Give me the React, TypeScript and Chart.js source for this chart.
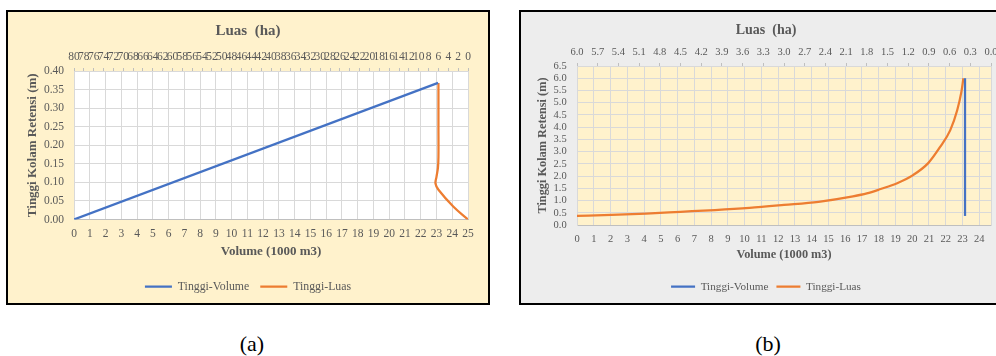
import React, { useEffect, useRef } from 'react';
import { Chart, registerables } from 'chart.js';

Chart.register(...registerables);

const SERIF = "'Liberation Serif', 'Times New Roman', serif";
const TEXT = '#595959';
const BLUE = '#4472C4';
const ORANGE = '#ED7D31';
const GRID = '#D9D9D9';
const TICKMARK = '#BFBFBF';

Chart.defaults.font.family = SERIF;
Chart.defaults.color = TEXT;

// ---------- shared text ----------
const seriesNames = ['Tinggi-Volume', 'Tinggi-Luas'];
const topTitle = 'Luas  (ha)';
const xTitle = 'Volume (1000 m3)';
const yTitle = 'Tinggi Kolam Retensi (m)';
const captions = ['(a)', '(b)'];

// ---------- chart (a) ----------
const volumeA = [0, 23.1];
const heightVolumeA = [0, 0.368];
const luasA = [0, 3.0, 6.0, 6.6, 6.4, 6.1, 6.0, 6.0, 6.0];
const heightLuasA = [0, 0.035, 0.08, 0.097, 0.115, 0.14, 0.17, 0.25, 0.368];

// ---------- chart (b) ----------
const volumeB = [23.15, 23.15];
const heightVolumeB = [0.37, 6.0];
const luasB = [6.0, 5.5, 5.0, 4.5, 4.0, 3.5, 3.0, 2.5, 2.0, 1.8, 1.6, 1.36, 1.13, 0.91, 0.74, 0.59, 0.49, 0.43, 0.4];
const heightLuasB = [0.37, 0.41, 0.47, 0.54, 0.61, 0.7, 0.82, 0.95, 1.17, 1.29, 1.47, 1.71, 2.04, 2.53, 3.18, 3.88, 4.69, 5.43, 6.0];

const pts = (xs: number[], ys: number[]) => xs.map((x, i) => ({ x, y: ys[i] }));

const plotBg = {
  id: 'plotBg',
  beforeDraw(chart: any, _args: any, opts: any) {
    const { ctx, chartArea } = chart;
    ctx.save();
    ctx.fillStyle = opts.color;
    ctx.fillRect(chartArea.left, chartArea.top, chartArea.right - chartArea.left, chartArea.bottom - chartArea.top);
    ctx.restore();
  },
};

type Spec = {
  volume: number[];
  heightVolume: number[];
  luas: number[];
  heightLuas: number[];
  luasCurve: 'default' | 'monotone';
  plotColor: string;
  xMax: number;
  luasMax: number;
  luasStep: number;
  luasDecimals: number;
  yMax: number;
  yStep: number;
  yDecimals: number;
  titleSize: number;
  titlePadTop: number;
  axisTitleSize: number;
  tickSize: number;
  legendSize: number;
  legendPad: number;
  legendLine: number;
  layoutBottom: number;
  topAxisH: number;
  topTickPad: number;
  bottomAxisH: number;
  bottomTickPad: number;
  bottomTitlePad: number;
  yAxisW: number;
  yTickPad: number;
  yTitlePad: number;
  rightW: number;
  rightBorder: boolean;
};

function buildConfig(s: Spec): any {
  return {
    type: 'line',
    data: {
      datasets: [
        {
          label: seriesNames[0],
          data: pts(s.volume, s.heightVolume),
          xAxisID: 'x',
          yAxisID: 'y',
          borderColor: BLUE,
          backgroundColor: BLUE,
          borderWidth: 2.25,
          pointRadius: 0,
          tension: 0,
        },
        {
          label: seriesNames[1],
          data: pts(s.luas, s.heightLuas),
          xAxisID: 'x2',
          yAxisID: 'y',
          borderColor: ORANGE,
          backgroundColor: ORANGE,
          borderWidth: 2.25,
          pointRadius: 0,
          tension: 0.4,
          cubicInterpolationMode: s.luasCurve,
        },
      ],
    },
    options: {
      responsive: false,
      animation: false,
      devicePixelRatio: 1,
      layout: { padding: { left: 0, right: 0, top: 0, bottom: s.layoutBottom } },
      plugins: {
        title: {
          display: true,
          text: topTitle,
          color: TEXT,
          font: { family: SERIF, size: s.titleSize, weight: 'bold' },
          padding: { top: s.titlePadTop, bottom: 0 },
        },
        legend: {
          position: 'bottom',
          labels: {
            color: TEXT,
            font: { family: SERIF, size: s.legendSize },
            usePointStyle: true,
            pointStyle: 'line',
            pointStyleWidth: s.legendLine,
            padding: s.legendPad,
          },
        },
        tooltip: { enabled: false },
        plotBg: { color: s.plotColor },
      },
      scales: {
        x: {
          type: 'linear',
          position: 'bottom',
          min: 0,
          max: s.xMax,
          ticks: {
            stepSize: 1,
            includeBounds: false,
            color: TEXT,
            font: { size: s.tickSize },
            padding: s.bottomTickPad,
            autoSkip: false,
            maxRotation: 0,
            minRotation: 0,
            callback: (v: number) => (Number.isInteger(v) ? String(v) : ''),
          },
          grid: { color: GRID, drawTicks: false },
          border: { color: TICKMARK },
          title: {
            display: true,
            text: xTitle,
            color: TEXT,
            font: { size: s.axisTitleSize, weight: 'bold' },
            padding: { top: 0, bottom: s.bottomTitlePad },
          },
          afterFit: (sc: any) => {
            sc.height = s.bottomAxisH;
          },
        },
        x2: {
          type: 'linear',
          axis: 'x',
          position: 'top',
          min: 0,
          max: s.luasMax,
          reverse: true,
          ticks: {
            stepSize: s.luasStep,
            color: TEXT,
            font: { size: s.tickSize },
            padding: s.topTickPad,
            autoSkip: false,
            maxRotation: 0,
            minRotation: 0,
            callback: (v: number) => Number(v).toFixed(s.luasDecimals),
          },
          grid: { drawOnChartArea: false, drawTicks: true, tickLength: 3, color: TICKMARK },
          border: { display: false },
          afterFit: (sc: any) => {
            sc.height = s.topAxisH;
          },
        },
        y: {
          type: 'linear',
          position: 'left',
          min: 0,
          max: s.yMax,
          ticks: {
            stepSize: s.yStep,
            color: TEXT,
            font: { size: s.tickSize },
            padding: s.yTickPad,
            autoSkip: false,
            callback: (v: number) => Number(v).toFixed(s.yDecimals),
          },
          grid: { color: GRID, drawTicks: false },
          border: { color: GRID },
          title: {
            display: true,
            text: yTitle,
            color: TEXT,
            font: { size: s.axisTitleSize, weight: 'bold' },
            padding: { top: s.yTitlePad, bottom: 0 },
          },
          afterFit: (sc: any) => {
            sc.width = s.yAxisW;
          },
        },
        y2: {
          type: 'linear',
          axis: 'y',
          position: 'right',
          min: 0,
          max: 1,
          ticks: { display: false },
          grid: { display: false },
          border: { display: s.rightBorder, color: GRID },
          afterFit: (sc: any) => {
            sc.width = s.rightW;
          },
        },
      },
    },
    plugins: [plotBg],
  };
}

const specA: Spec = {
  volume: volumeA,
  heightVolume: heightVolumeA,
  luas: luasA,
  heightLuas: heightLuasA,
  luasCurve: 'default',
  plotColor: '#FFFFFF',
  xMax: 25,
  luasMax: 80,
  luasStep: 2,
  luasDecimals: 0,
  yMax: 0.4,
  yStep: 0.05,
  yDecimals: 2,
  titleSize: 15,
  titlePadTop: 10.5,
  axisTitleSize: 13,
  tickSize: 11.5,
  legendSize: 11.8,
  legendPad: 11,
  legendLine: 27,
  layoutBottom: 0.4,
  topAxisH: 30.5,
  topTickPad: 3.8,
  bottomAxisH: 50.3,
  bottomTickPad: 7.9,
  bottomTitlePad: 10.3,
  yAxisW: 66,
  yTickPad: 10,
  yTitlePad: 16.5,
  rightW: 20,
  rightBorder: false,
};

const specB: Spec = {
  volume: volumeB,
  heightVolume: heightVolumeB,
  luas: luasB,
  heightLuas: heightLuasB,
  luasCurve: 'monotone',
  plotColor: '#FFF2CC',
  xMax: 24.7,
  luasMax: 6,
  luasStep: 0.3,
  luasDecimals: 1,
  yMax: 6.5,
  yStep: 0.5,
  yDecimals: 1,
  titleSize: 14,
  titlePadTop: 9.6,
  axisTitleSize: 12.3,
  tickSize: 10.5,
  legendSize: 11.2,
  legendPad: 8,
  legendLine: 24,
  layoutBottom: 0.7,
  topAxisH: 27.6,
  topTickPad: 4.4,
  bottomAxisH: 48.1,
  bottomTickPad: 7.7,
  bottomTitlePad: 10.7,
  yAxisW: 56,
  yTickPad: 10.3,
  yTitlePad: 14.9,
  rightW: 20,
  rightBorder: true,
};

function ChartPanel({ spec, width, height }: { spec: Spec; width: number; height: number }) {
  const ref = useRef<HTMLCanvasElement>(null);
  useEffect(() => {
    if (!ref.current) return;
    const chart = new Chart(ref.current, buildConfig(spec));
    return () => chart.destroy();
  }, [spec]);
  return <canvas ref={ref} width={width} height={height} style={{ display: 'block', width, height }} />;
}

export default function App() {
  return (
    <div
      style={{
        position: 'absolute',
        left: 0,
        top: 0,
        width: 996,
        height: 356,
        overflow: 'hidden',
        background: '#FFFFFF',
        fontFamily: SERIF,
      }}
    >
      <div
        style={{
          position: 'absolute',
          left: 6,
          top: 10,
          width: 484,
          height: 295,
          border: '2px solid #000',
          boxSizing: 'border-box',
          background: '#FFF2CC',
        }}
      >
        <ChartPanel spec={specA} width={480} height={291} />
      </div>
      <div
        style={{
          position: 'absolute',
          left: 519,
          top: 10,
          width: 494,
          height: 295,
          border: '2px solid #000',
          boxSizing: 'border-box',
          background: '#EDEDED',
        }}
      >
        <ChartPanel spec={specB} width={490} height={291} />
      </div>
      <div style={{ position: 'absolute', left: 202, top: 331, width: 100, textAlign: 'center', fontSize: 22, lineHeight: '26px', color: '#000' }}>
        {captions[0]}
      </div>
      <div style={{ position: 'absolute', left: 718, top: 331, width: 100, textAlign: 'center', fontSize: 22, lineHeight: '26px', color: '#000' }}>
        {captions[1]}
      </div>
    </div>
  );
}
